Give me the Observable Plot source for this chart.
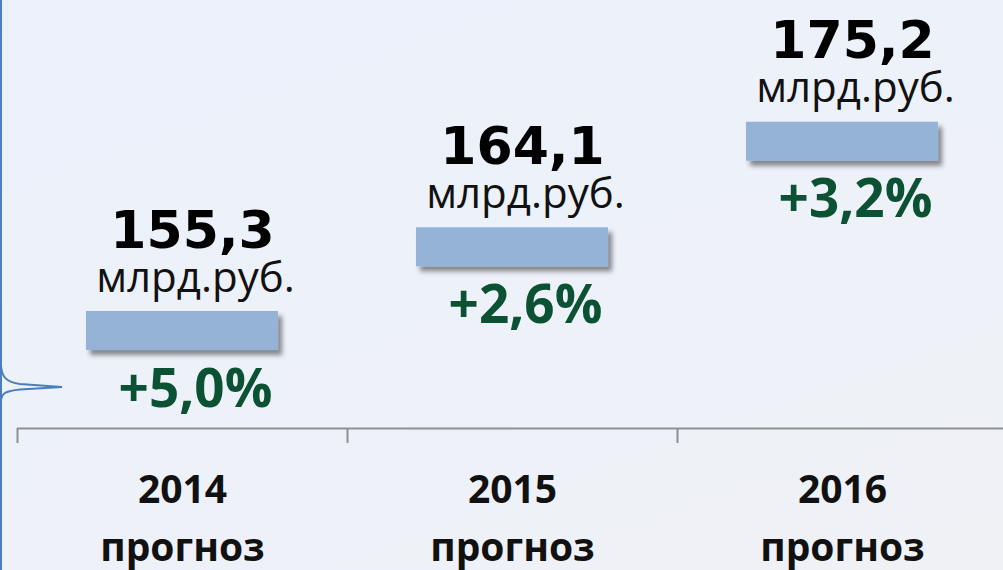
<!DOCTYPE html>
<html><head><meta charset="utf-8">
<script src="https://cdn.jsdelivr.net/npm/d3@7"></script>
<script src="https://cdn.jsdelivr.net/npm/@observablehq/plot@0.6"></script>
<style>
html,body{margin:0;padding:0;}
body{width:1003px;height:570px;overflow:hidden;position:relative;
  background:linear-gradient(160deg,#ecf0fa 0%,#edf1f9 45%,#eff1f5 100%);}
#chart{position:absolute;left:0;top:0;}
#deco{position:absolute;left:0;top:0;pointer-events:none;}
</style></head><body>
<div id="chart"></div>
<svg id="deco" width="1003" height="570">
  <line x1="1" y1="0" x2="1" y2="570" stroke="#4a7ebf" stroke-width="2"/>
  <path d="M1,366 C2,377 6,382 20,384 L62,387 L20,389.5 C6,391 2,393 1,400" fill="none" stroke="#4a7ebf" stroke-width="2"/>
</svg>
<script>
const years = ["2014", "2015", "2016"];
const notes = ["прогноз", "прогноз", "прогноз"];
const values = [155.3, 164.1, 175.2];
const valueLabels = ["155,3", "164,1", "175,2"];
const unitLabels = ["млрд.руб.", "млрд.руб.", "млрд.руб."];
const growthLabels = ["+5,0%", "+2,6%", "+3,2%"];

const data = years.map((year, i) => ({
  i, year, note: notes[i], value: values[i],
  label: valueLabels[i], unit: unitLabels[i], growth: growthLabels[i]
}));

const barPad = 0.209;   // fraction of category step left empty on each side
const barThick = 4.1;   // bar thickness in value units
const cx = d => d.i + 0.5;

const chart = Plot.plot({
  width: 1003, height: 570,
  marginTop: 0, marginLeft: 17, marginRight: 0, marginBottom: 142,
  style: {background: "transparent", overflow: "visible"},
  x: {type: "linear", domain: [0, years.length], range: [17, 1007]},
  y: {domain: [143, 188], axis: null},
  marks: [
    Plot.axisX({ticks: d3.range(years.length), tickSize: 15, tickFormat: () => "", label: null,
      stroke: "#8f8f8f", strokeWidth: 2}),
    Plot.ruleY([143], {stroke: "#8f8f8f", strokeWidth: 2}),
    Plot.rect(data, {x1: d => d.i + barPad, x2: d => d.i + 1 - barPad,
      y1: d => d.value - barThick, y2: "value", fill: "#95b3d7"}),
    Plot.text(data, {x: cx, y: "value", text: "label", dx: 10, dy: -64, lineAnchor: "bottom",
      fontFamily: "DejaVu Sans", fontWeight: "bold", fontSize: 52, fill: "#000"}),
    Plot.text(data, {x: cx, y: "value", text: "unit", dx: 13, dy: -20, lineAnchor: "bottom",
      fontFamily: "Open Sans", fontSize: 42, fill: "#111"}),
    Plot.text(data, {x: cx, y: "value", text: "growth", dx: 13, dy: 95, lineAnchor: "bottom",
      fontFamily: "Open Sans", fontWeight: "bold", fontSize: 53, fill: "#0b5134"}),
    Plot.text(data, {x: cx, frameAnchor: "bottom", text: "year", dy: 74, lineAnchor: "bottom",
      fontFamily: "Open Sans", fontWeight: "bold", fontSize: 39, fill: "#111"}),
    Plot.text(data, {x: cx, frameAnchor: "bottom", text: "note", dy: 132, lineAnchor: "bottom",
      fontFamily: "Open Sans", fontWeight: "bold", fontSize: 39, fill: "#111"})
  ]
});

const svg = d3.select(chart);
const defs = svg.insert("defs", ":first-child");
defs.append("filter").attr("id", "barShadow")
  .attr("x", "-10%").attr("y", "-40%").attr("width", "130%").attr("height", "200%")
  .append("feDropShadow").attr("dx", 4).attr("dy", 5).attr("stdDeviation", 2.5)
  .attr("flood-color", "#000").attr("flood-opacity", 0.45);
svg.selectAll('g[aria-label="rect"]').attr("filter", "url(#barShadow)");

document.getElementById("chart").appendChild(chart);
</script>
</body></html>
